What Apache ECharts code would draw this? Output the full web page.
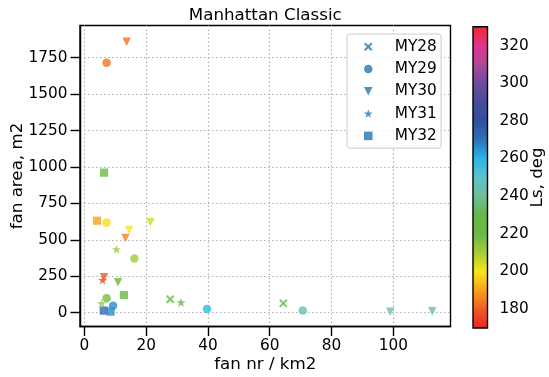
<!DOCTYPE html>
<html><head><meta charset="utf-8">
<script src="https://cdn.jsdelivr.net/npm/echarts@6/dist/echarts.min.js"></script>
<style>html,body{margin:0;padding:0;background:#fff}#c{width:549px;height:377px}</style>
</head><body><div id="c"></div>
<script>
// ---- data ----
const xTicks = [0, 20, 40, 60, 80, 100];
const yTicks = [0, 250, 500, 750, 1000, 1250, 1500, 1750];
const lsTicks = [180, 200, 220, 240, 260, 280, 300, 320];
const seriesNames = ['MY28', 'MY29', 'MY30', 'MY31', 'MY32'];

const my28Nr = [27.8, 64.4];
const my28Area = [92, 64];
const my28Ls = [225, 230];

const my29Nr = [7.2, 7.2, 16.2, 7.2, 9.3, 39.7, 70.7];
const my29Area = [1716, 618, 372, 99, 48, 25, 14];
const my29Ls = [183, 199, 211, 218, 266, 258, 245];

const my30Nr = [13.7, 21.4, 14.5, 13.3, 6.4, 10.9, 99.0, 112.6];
const my30Area = [1860, 621, 568, 513, 243, 209, 7, 9];
const my30Ls = [183, 205, 200, 186, 180, 220, 240, 240];

const my31Nr = [10.4, 5.9, 5.6, 31.3];
const my31Area = [435, 224, 65, 71];
const my31Ls = [211, 176, 213, 225];

const my32Nr = [6.4, 4.1, 12.8, 6.3, 8.5];
const my32Area = [961, 631, 121, 14, 7];
const my32Ls = [220, 190, 222, 272, 266];

// colormap, Ls 170..330 in steps of 10
const cmap = ['#ee2524', '#f15b27', '#f9a11b', '#f6e51a', '#a6cb38', '#6ab946', '#66b947',
  '#6cbf9a', '#5ec3cc', '#28b6e8', '#2f70b8', '#2f4f9f', '#4a4c9f', '#6e4a9d', '#b0489a',
  '#e3338d', '#ee2a35'];

function pts(nr, area, ls) { return nr.map((v, i) => [v, area[i], ls[i]]); }

const symX = 'path://M0,1.7L1.7,0L5,3.3L8.3,0L10,1.7L6.7,5L10,8.3L8.3,10L5,6.7L1.7,10L0,8.3L3.3,5Z';
const symTri = 'path://M0,0L10,0L5,10Z';
const symStar = 'path://M0,-100L22.45,-30.9L95.1,-30.9L36.33,11.8L58.8,80.9L0,38.2L-58.8,80.9L-36.33,11.8L-95.1,-30.9L-22.45,-30.9Z';
const symSq = 'path://M0,0L10,0L10,10L0,10Z';
const symbols = [symX, 'circle', symTri, symStar, symSq];
const sizes = [8.5, 8.5, 8.5, [9.2, 8.8], 8.2];
const seriesData = [
  pts(my28Nr, my28Area, my28Ls),
  pts(my29Nr, my29Area, my29Ls),
  pts(my30Nr, my30Area, my30Ls),
  pts(my31Nr, my31Area, my31Ls),
  pts(my32Nr, my32Area, my32Ls)
];

const font = 'DejaVu Sans';
const gridLine = { show: true, lineStyle: { type: [1.5, 2.5], color: '#b0b0b0', width: 1.2 } };
const plain = v => String(v);

const chart = echarts.init(document.getElementById('c'), null, { renderer: 'canvas' });
chart.setOption({
  animation: false,
  color: ['#1f77b4'],
  textStyle: { fontFamily: font, color: '#000' },
  title: {
    text: 'Manhattan Classic', left: 265.25, textAlign: 'center', top: 7.5, padding: 0,
    textStyle: { fontFamily: font, fontSize: 16.7, fontWeight: 'normal', color: '#000' }
  },
  grid: [
    { left: 80, right: 98.5, top: 25.5, bottom: 50.5, show: true, borderColor: '#000', borderWidth: 1.4,
      containLabel: false, outerBoundsMode: 'none' },
    { left: 473, top: 26.7, width: 14.5, height: 301.3, show: true, borderColor: '#000', borderWidth: 1.4,
      backgroundColor: 'transparent', z: 10, containLabel: false, outerBoundsMode: 'none' }
  ],
  xAxis: [
    {
      type: 'value', gridIndex: 0, min: -1.4, max: 118.5,
      axisLine: { show: true, onZero: false, lineStyle: { color: '#000', width: 1.4 } },
      axisTick: { show: true, length: 9.5, lineStyle: { color: '#000', width: 1.4 }, customValues: xTicks },
      axisLabel: { customValues: xTicks, formatter: plain, fontSize: 15.3, color: '#000', fontFamily: font, margin: 12 },
      splitLine: gridLine,
      name: 'fan nr / km2', nameLocation: 'middle', nameGap: 30, nameMoveOverlap: false,
      nameTextStyle: { fontSize: 16.7, color: '#000', fontFamily: font }
    },
    { type: 'value', gridIndex: 1, min: 0, max: 1, show: false }
  ],
  yAxis: [
    {
      type: 'value', gridIndex: 0, min: -95, max: 1971,
      axisLine: { show: true, onZero: false, lineStyle: { color: '#000', width: 1.4 } },
      axisTick: { show: true, length: 9.5, lineStyle: { color: '#000', width: 1.4 }, customValues: yTicks },
      axisLabel: { customValues: yTicks, formatter: plain, fontSize: 15.3, color: '#000', fontFamily: font, margin: 12.5 },
      splitLine: gridLine,
      name: 'fan area, m2', nameLocation: 'middle', nameGap: 53.5, nameMoveOverlap: false,
      nameTextStyle: { fontSize: 16.7, color: '#000', fontFamily: font }
    },
    {
      type: 'value', gridIndex: 1, min: 170, max: 330, position: 'right',
      axisLine: { show: false },
      axisTick: { show: true, length: 7.5, lineStyle: { color: '#000', width: 1.4 }, customValues: lsTicks },
      axisLabel: { customValues: lsTicks, formatter: plain, fontSize: 15.3, color: '#000', fontFamily: font, margin: 12 },
      splitLine: { show: false },
      name: 'Ls, deg', nameLocation: 'middle', nameGap: 42, nameMoveOverlap: false,
      nameTextStyle: { fontSize: 16.7, color: '#000', fontFamily: font }
    }
  ],
  visualMap: {
    type: 'continuous', min: 170, max: 330, dimension: 2, seriesIndex: [0, 1, 2, 3, 4],
    inRange: { color: cmap }, show: true, left: 473, top: 26.7, itemWidth: 14.5, itemHeight: 301.3,
    padding: 0, calculable: false, hoverLink: false, text: null
  },
  legend: {
    orient: 'vertical', left: 347, top: 34, padding: [5.2, 4.3, 4.8, 16.8],
    itemWidth: 9, itemHeight: 8.5, itemGap: 7.3, symbolKeepAspect: true,
    backgroundColor: 'rgba(255,255,255,0.8)', borderColor: '#cccccc', borderWidth: 1, borderRadius: 3,
    textStyle: { fontSize: 15.3, color: '#000', fontFamily: font, lineHeight: 15, padding: [0, 0, 0, 17] },
    selectedMode: false,
    data: seriesNames.map((n, i) => ({ name: n, icon: symbols[i], itemStyle: { color: '#1f77b4' } }))
  },
  series: seriesNames.map((n, i) => ({
    name: n, type: 'scatter', xAxisIndex: 0, yAxisIndex: 0,
    symbol: symbols[i], symbolSize: sizes[i], symbolKeepAspect: false,
    data: seriesData[i], silent: true, z: 3 + i
  }))
});
</script></body></html>
